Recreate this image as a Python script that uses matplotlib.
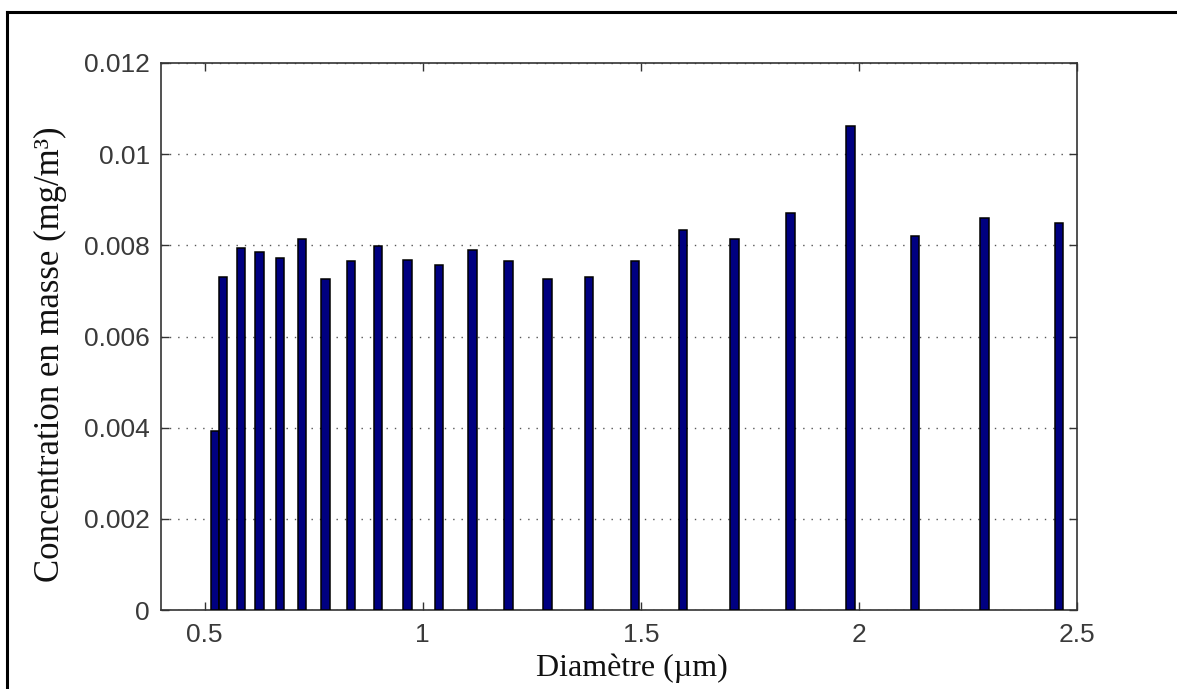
import matplotlib
matplotlib.use('Agg')
import matplotlib.pyplot as plt
from matplotlib.lines import Line2D

# diamètres des canaux (µm) et concentrations
diametres = [0.523, 0.542, 0.583, 0.626, 0.673, 0.723, 0.777, 0.835, 0.898,
             0.965, 1.037, 1.114, 1.197, 1.286, 1.382, 1.486, 1.596, 1.715,
             1.843, 1.981, 2.129, 2.288, 2.458]
concentration = [0.00393, 0.00731, 0.00794, 0.00786, 0.00773, 0.00814,
                 0.00727, 0.00765, 0.00799, 0.00768, 0.00756, 0.00790,
                 0.00765, 0.00727, 0.00731, 0.00766, 0.00833, 0.00813,
                 0.00871, 0.01061, 0.00821, 0.00859, 0.00850]
xticks = [0.5, 1, 1.5, 2, 2.5]
xlabels = ['0.5', '1', '1.5', '2', '2.5']
yticks = [0, 0.002, 0.004, 0.006, 0.008, 0.010, 0.012]
ylabels = ['0', '0.002', '0.004', '0.006', '0.008', '0.01', '0.012']

fig = plt.figure(figsize=(11.77, 6.89), dpi=100)
ax = fig.add_axes([161 / 1177, 79 / 689, 916 / 1177, 547 / 689])

ax.bar(diametres, concentration, width=0.019, color='#000080',
       edgecolor='black', linewidth=1.1, zorder=3)

ax.set_xlim(0.4, 2.5)
ax.set_ylim(0, 0.012)
ax.set_xticks(xticks)
ax.set_xticklabels(xlabels)
ax.set_yticks(yticks)
ax.set_yticklabels(ylabels)

# grille pointillée horizontale (style MATLAB)
ax.yaxis.grid(True, linestyle=(0, (1, 5)), color='#555555', linewidth=1.0)
ax.set_axisbelow(True)

ax.tick_params(direction='in', top=True, right=True, length=6,
               width=1, color='#333333', labelcolor='#3a3a3a',
               labelsize=19)
ax.tick_params(axis='x', pad=9)
ax.tick_params(axis='y', pad=8)
for lab in ax.get_xticklabels() + ax.get_yticklabels():
    lab.set_family('Liberation Sans')
for s in ax.spines.values():
    s.set_color('#333333')
    s.set_linewidth(1.2)

ax.set_xlabel('Diamètre (µm)', family='Liberation Serif', fontsize=23,
              color='#111111')
ax.set_ylabel('Concentration en masse (mg/m³)', family='Liberation Serif',
              fontsize=25, color='#111111')
ax.xaxis.set_label_coords(0.514, -0.08)
ax.yaxis.set_label_coords(-0.103, 0.468)

# cadre noir autour de l'image (gauche et haut)
fig.add_artist(Line2D([7 / 1177, 7 / 1177], [0, 1 - 12 / 689],
                      transform=fig.transFigure, color='black', lw=2.2))
fig.add_artist(Line2D([7 / 1177, 1], [1 - 12 / 689, 1 - 12 / 689],
                      transform=fig.transFigure, color='black', lw=2.2))

fig.savefig('out.png', dpi=100)
